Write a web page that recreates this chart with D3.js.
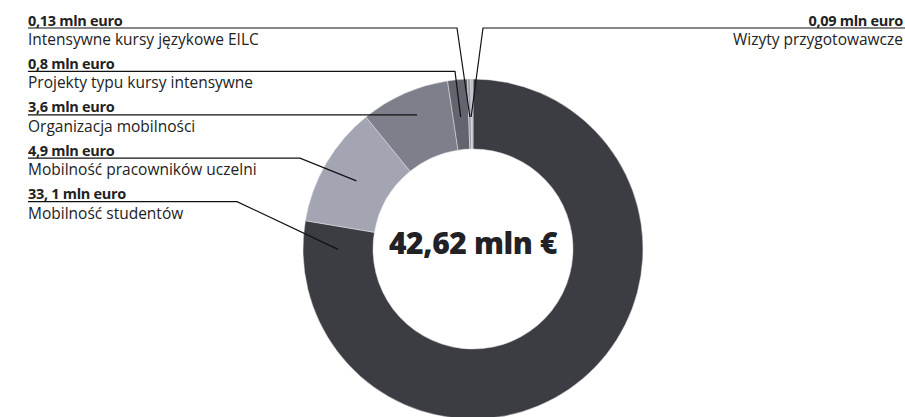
<!DOCTYPE html>
<html>
<head>
<meta charset="utf-8">
<script src="https://cdn.jsdelivr.net/npm/d3@7"></script>
<style>
  body { margin: 0; background: #fff; }
  svg { display: block; font-family: "Open Sans", Lato, sans-serif; }
</style>
</head>
<body>
<svg id="chart" width="905" height="417"></svg>
<script>
// values in mln euro, in drawing order (clockwise from 12 o'clock)
var names = ["Mobilność studentów", "Mobilność pracowników uczelni", "Organizacja mobilności",
  "Projekty typu kursy intensywne", "Intensywne kursy językowe EILC", "Wizyty przygotowawcze"];
var values = [33.1, 4.9, 3.6, 0.8, 0.13, 0.09];
var valueLabels = ["33, 1 mln euro", "4,9 mln euro", "3,6 mln euro", "0,8 mln euro", "0,13 mln euro", "0,09 mln euro"];
var colors = ["#3c3d43", "#a3a5b2", "#7d7f8b", "#62646e", "#9c9ea9", "#b9bbc4"];
var totalLabel = "42,62 mln €";

var svg = d3.select("#chart");
var cx = 473, cy = 249, outerR = 170, innerR = 100, midR = 135;

var pie = d3.pie().sort(null).value(function (d) { return d; });
var arcs = pie(values);
var arc = d3.arc().innerRadius(innerR).outerRadius(outerR);

var g = svg.append("g").attr("transform", "translate(" + cx + "," + cy + ")");

g.selectAll("path")
  .data(arcs)
  .enter()
  .append("path")
  .attr("d", arc)
  .attr("fill", function (d, i) { return colors[i]; })
  .attr("stroke", "#e4e5ea")
  .attr("stroke-width", 0.5);

g.append("text")
  .attr("text-anchor", "middle")
  .attr("y", 5)
  .attr("font-size", 30)
  .attr("font-weight", 800)
  .attr("letter-spacing", -0.4)
  .attr("fill", "#222226")
  .text(totalLabel);

// label rows: the five left labels stacked top-down, the last one goes right
var leftOrder = [4, 3, 2, 1, 0];
var rowY = d3.scaleLinear().domain([0, 1]).range([28, 71.4]);
var bendX = { 4: 457, 3: 455, 2: 417, 1: 300, 0: 237 };

function anchor(d) {
  // point inside the slice where the leader line ends
  var a = (d.endAngle - d.startAngle) > Math.PI ? d.endAngle - 0.17 : (d.startAngle + d.endAngle) / 2;
  return [cx + midR * Math.sin(a), cy - midR * Math.cos(a)];
}

var labels = svg.append("g");

function addLabel(idx, x, y, anchorSide) {
  labels.append("text")
    .attr("x", x).attr("y", y - 2.5).attr("text-anchor", anchorSide)
    .attr("font-size", 14.5).attr("font-weight", 700).attr("fill", "#222")
    .attr("letter-spacing", -0.3)
    .text(valueLabels[idx]);
  labels.append("text")
    .attr("x", x).attr("y", y + 17).attr("text-anchor", anchorSide)
    .attr("font-size", 15.5).attr("fill", "#222")
    .text(names[idx]);
}

leftOrder.forEach(function (idx, row) {
  var y = rowY(row);
  var d = arcs[idx];
  var end = anchor(d);
  if (idx === 2) end = [bendX[2], y];
  if (idx === 4 || idx === 3) end = [end[0], cy - midR + 3];
  addLabel(idx, 28, y, "start");
  labels.append("path")
    .attr("d", d3.line()([[28, y], [bendX[idx], y], end]))
    .attr("fill", "none").attr("stroke", "#111").attr("stroke-width", 1.2);
});

(function () {
  var idx = 5, y = rowY(0);
  var d = arcs[idx];
  var end = [anchor(d)[0] - 1, cy - midR + 3];
  addLabel(idx, 903, y, "end");
  labels.append("path")
    .attr("d", d3.line()([[905, y], [483, y], end]))
    .attr("fill", "none").attr("stroke", "#111").attr("stroke-width", 1.2);
})();
</script>
</body>
</html>
